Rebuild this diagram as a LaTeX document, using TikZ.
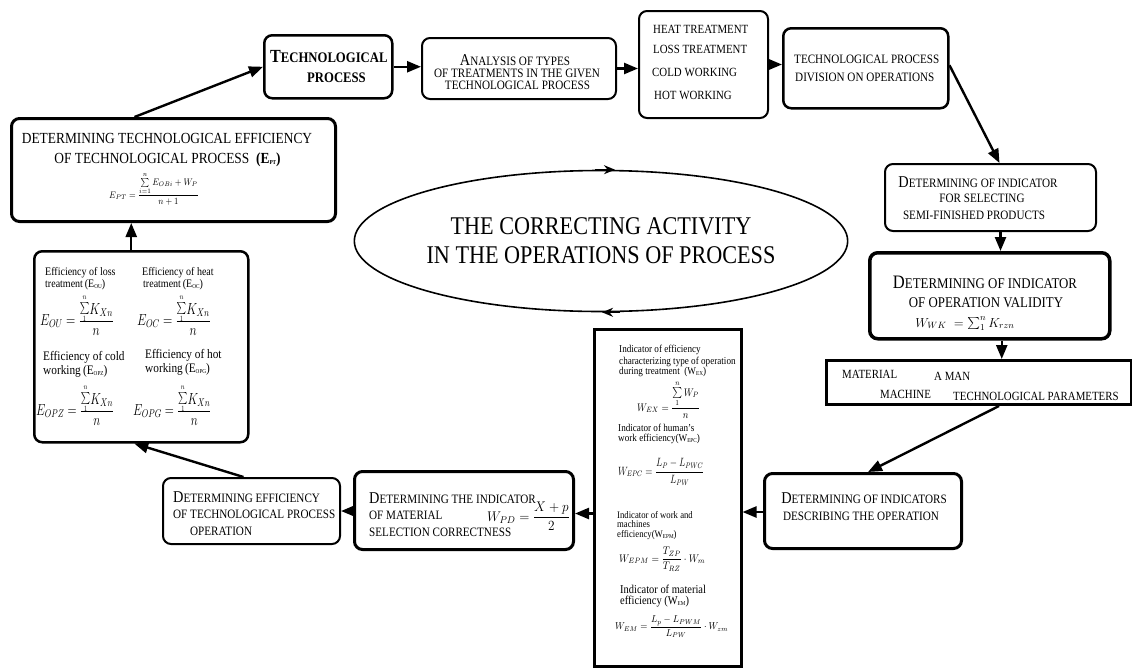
\RequirePackage{fix-cm}
\documentclass[tikz,border=0pt]{standalone}
\usepackage{amsmath}
\usepackage{fontspec}
\setmainfont[FakeStretch=0.87]{Liberation Serif}
\usepackage{graphicx}
\usetikzlibrary{arrows.meta,shapes.geometric}
\newcommand\fsz[1]{\fontsize{#1}{#1}\selectfont}
\newcommand\Ini[1]{{\fsz{16.5}#1}}
\newcommand\mf[3][0.8]{\scalebox{#1}[1]{\fsz{#2}$\displaystyle #3$}}
\newcommand\lowsub[1]{\raisebox{-1.5pt}{\fsz{6}#1}}
\newcommand\Sn{\smash{\raisebox{3pt}{\fsz{12}$\textstyle\sum\limits_1^n$}}}
\begin{document}
\begin{tikzpicture}[x=1pt,y=-1pt,
 rbox/.style={draw, rounded corners=8pt, inner sep=0pt, anchor=north west},
 sqbox/.style={draw, inner sep=0pt, anchor=north west},
 tx/.style={inner sep=0pt, anchor=base west},
 tc/.style={inner sep=0pt, anchor=base},
 arr/.style={line width=2.4pt, -{Triangle[length=14pt,width=11pt]}},
 earr/.style={line width=1.6pt, -{Stealth[length=11pt,width=9pt]}}]
\useasboundingbox (0,0) rectangle (1132,670);

% boxes
\node[rbox, line width=2.5pt, minimum width=128pt, minimum height=63pt] (b1) at (263,34) {};
\node[rbox, line width=2pt, minimum width=194pt, minimum height=61pt] (b2) at (421,37) {};
\node[rbox, line width=2pt, minimum width=129pt, minimum height=107pt] (b3) at (638,10) {};
\node[rbox, line width=2.5pt, minimum width=165pt, minimum height=80pt] (b4) at (782,27) {};
\node[rbox, line width=2pt, minimum width=211pt, minimum height=67pt] (b5) at (884,163) {};
\node[rbox, line width=3.5pt, minimum width=240pt, minimum height=86pt] (b6) at (868,251) {};
\node[sqbox, line width=3pt, minimum width=305pt, minimum height=44pt] (b7) at (825,359) {};
\node[rbox, line width=3pt, minimum width=197pt, minimum height=75pt] (b8) at (763,472) {};
\node[sqbox, line width=2.5pt, minimum width=147pt, minimum height=337pt] (b9) at (593,328) {};
\node[rbox, line width=3pt, minimum width=219pt, minimum height=78pt] (b10) at (353,470) {};
\node[rbox, line width=2pt, minimum width=177pt, minimum height=66pt] (b11) at (162,477) {};
\node[rbox, line width=2.5pt, minimum width=214pt, minimum height=191pt] (b12) at (33,250) {};
\node[rbox, line width=3pt, minimum width=324pt, minimum height=103pt] (b13) at (10,117) {};

% ellipse
\node[draw, ellipse, line width=1.6pt, minimum width=446pt, minimum height=141pt, inner sep=0pt,
  align=center, font={\fontsize{25.5}{29}\selectfont}] (ell) at (601,241)
  {THE CORRECTING ACTIVITY\\IN THE OPERATIONS OF PROCESS};
\draw[earr] ([xshift=-6pt]ell.north) -- ([xshift=14pt]ell.north);
\draw[earr] ([xshift=19pt]ell.south) -- ([xshift=1pt]ell.south);

% box 1
\node[tx] (t1a) at (270,62) {\bfseries\fsz{14.6}{\fsz{18.5}T}ECHNOLOGICAL};
\node[tx] (t1b) at (307,82) {\bfseries\fsz{14.6}PROCESS};
% box 2
\node[tc] (t2a) at (515,65) {\fsz{12.8}\Ini{A}NALYSIS OF TYPES};
\node[tc] (t2b) at (517,77) {\fsz{12.8}OF TREATMENTS IN THE GIVEN};
\node[tc] (t2c) at (517.5,89) {\fsz{12.8}TECHNOLOGICAL PROCESS};
% box 3
\node[tx, font=\fsz{12.5}] (t3a) at (653,33) {HEAT TREATMENT};
\node[tx, font=\fsz{12.5}] (t3b) at (653,53) {LOSS TREATMENT};
\node[tx, font=\fsz{12.5}] (t3c) at (652,76) {COLD WORKING};
\node[tx, font=\fsz{12.5}] (t3d) at (654,99) {HOT WORKING};
% box 4
\node[tx, font=\fsz{12.8}] (t4a) at (794,63) {TECHNOLOGICAL PROCESS};
\node[tx, font=\fsz{12.8}] (t4b) at (795,81) {DIVISION ON OPERATIONS};
% box 5
\node[tc] (t5a) at (978,187) {\fsz{12.8}\Ini{D}ETERMINING OF INDICATOR};
\node[tc] (t5b) at (982,202) {\fsz{12.8}FOR SELECTING};
\node[tc] (t5c) at (974,219) {\fsz{12.8}SEMI-FINISHED PRODUCTS};
% box 6
\node[tc] (t6a) at (985,288) {\fsz{14.8}{\fsz{19}D}ETERMINING OF INDICATOR};
\node[tc] (t6b) at (986,307) {\fsz{14.8}OF OPERATION VALIDITY};
\node[tc] (f6) at (965,327) {\fsz{13}$W_{WK}\;=\sum\nolimits_1^n K_{rzn}$};
% box 7
\node[tx, font=\fsz{12.5}] (t7a) at (842,378) {MATERIAL};
\node[tx, font=\fsz{12.5}] (t7b) at (934,380) {A MAN};
\node[tx, font=\fsz{12.5}] (t7c) at (880,398) {MACHINE};
\node[tx, font=\fsz{12.5}] (t7d) at (953,400) {TECHNOLOGICAL PARAMETERS};
% box 8
\node[tc] (t8a) at (864,503) {\fsz{12.8}\Ini{D}ETERMINING OF INDICATORS};
\node[tc] (t8b) at (861,520) {\fsz{12.8}DESCRIBING THE OPERATION};
% box 9
\node[tx, font=\fsz{10.5}] (t9a) at (619,352) {Indicator of efficiency};
\node[tx, font=\fsz{10.5}] (t9b) at (619,364) {characterizing type of operation};
\node[tx, font=\fsz{10.5}] (t9c) at (619,374) {during treatment\ \ (W\lowsub{EX})};
\node[tx] (f9a) at (637,411) {\mf[0.85]{11}{W_{EX}=\dfrac{\sum\limits_1^n W_P}{n}}};
\node[tx, font=\fsz{10.5}] (t9d) at (618,431) {Indicator of human's};
\node[tx, font=\fsz{10.5}] (t9e) at (618,441) {work efficiency(W\lowsub{EPC})};
\node[tx] (f9b) at (618,475) {\mf[0.78]{12}{W_{EPC}=\dfrac{L_P-L_{PWC}}{L_{PW}}}};
\node[tx, font=\fsz{10}] (t9f) at (617,518) {Indicator of work and};
\node[tx, font=\fsz{10}] (t9g) at (617,527) {machines};
\node[tx, font=\fsz{10}] (t9h) at (617,537) {efficiency(W\lowsub{EPM})};
\node[tx] (f9c) at (619,562) {\mf[0.88]{11}{W_{EPM}=\dfrac{T_{ZP}}{T_{RZ}}\cdot W_m}};
\node[tx, font=\fsz{12}] (t9i) at (620,593) {Indicator of material};
\node[tx, font=\fsz{12}] (t9j) at (620,604) {efficiency (W\lowsub{EM})};
\node[tx] (f9d) at (615,629.5) {\mf[0.92]{10}{W_{EM}=\dfrac{L_p-L_{PWM}}{L_{PW}}\cdot W_{zm}}};
% box 10
\node[tx] (t10a) at (369,503) {\fsz{12.8}\Ini{D}ETERMINING THE INDICATOR};
\node[tx] (t10b) at (369,519) {\fsz{12.8}OF MATERIAL};
\node[tx] (t10c) at (369,536) {\fsz{12.8}SELECTION CORRECTNESS};
\node[tx] (f10) at (487,521) {\mf[0.95]{14}{W_{PD}=\dfrac{X+p}{2}}};
% box 11
\node[tx] (t11a) at (173,502) {\fsz{12.8}\Ini{D}ETERMINING EFFICIENCY};
\node[tx] (t11b) at (173,518) {\fsz{12.8}OF TECHNOLOGICAL PROCESS};
\node[tx] (t11c) at (190,535) {\fsz{12.8}OPERATION};
% box 12
\node[tx, font=\fsz{11.5}] (t12a) at (45,275) {Efficiency of loss};
\node[tx, font=\fsz{11.5}] (t12b) at (45,287) {treatment\,(E\lowsub{OU})};
\node[tx, font=\fsz{11.5}] (t12c) at (142,275) {Efficiency of heat};
\node[tx, font=\fsz{11.5}] (t12d) at (143,287) {treatment\,(E\lowsub{OC})};
\node[tx] (f12a) at (40,325) {\mf[0.76]{16}{E_{OU}=\dfrac{\Sn K_{Xn}}{n}}};
\node[tx] (f12b) at (137,325) {\mf[0.76]{16}{E_{OC}=\dfrac{\Sn K_{Xn}}{n}}};
\node[tx, font=\fsz{13}] (t12e) at (43,360) {Efficiency of cold};
\node[tx, font=\fsz{13}] (t12f) at (43,374) {working\,(E\lowsub{OPZ})};
\node[tx, font=\fsz{13}] (t12g) at (145,358) {Efficiency of hot};
\node[tx, font=\fsz{13}] (t12h) at (145,372) {working\,(E\lowsub{OPG})};
\node[tx] (f12c) at (36,415) {\mf[0.74]{16}{E_{OPZ}=\dfrac{\Sn K_{Xn}}{n}}};
\node[tx] (f12d) at (133,415) {\mf[0.74]{16}{E_{OPG}=\dfrac{\Sn K_{Xn}}{n}}};
% box 13
\node[tc, font=\fsz{15.4}] (t13a) at (167,143) {DETERMINING TECHNOLOGICAL EFFICIENCY};
\node[tc, font=\fsz{15.4}] (t13b) at (167.5,163) {OF TECHNOLOGICAL PROCESS\ \ \textbf{(E\lowsub{PT})}};
\node[tx] (f13) at (109,198) {\mf[0.88]{9.5}{E_{PT}=\frac{\textstyle\sum\limits_{i=1}^{n}E_{OBi}+W_P}{\textstyle n+1}}};

% connectors
\draw[arr] ([xshift=-39pt]b13.north) -- (b1.west);
\draw[arr] (b1.east) -- (b1.east -| b2.west);
\draw[arr] (b2.east) -- (b2.east -| b3.west);
\draw[arr] (b3.east) -- (b3.east -| b4.west);
\draw[arr] ([yshift=3pt]b4.east) -- ([xshift=9pt]b5.north);
\draw[arr] ([xshift=10pt]b5.south) -- ([xshift=10pt]b5.south |- b6.north);
\draw[arr] ([xshift=12pt]b6.south) -- ([xshift=12pt]b6.south |- b7.north);
\draw[arr] ([xshift=20pt]b7.south) -- ([xshift=5pt]b8.north);
\draw[arr] ([yshift=-1pt]b8.west) -- ([yshift=-1pt]b8.west -| b9.east);
\draw[arr] ([yshift=-3pt]b10.east -| b9.west) -- ([yshift=-3pt]b10.east);
\draw[arr] (b10.west |- b11.east) -- (b11.east);
\draw[arr] ([xshift=-8pt]b11.north) -- ([xshift=-7pt]b12.south);
\draw[arr] ([xshift=-10pt]b12.north) -- ([xshift=-10pt]b12.north |- b13.south);
\end{tikzpicture}
\end{document}
